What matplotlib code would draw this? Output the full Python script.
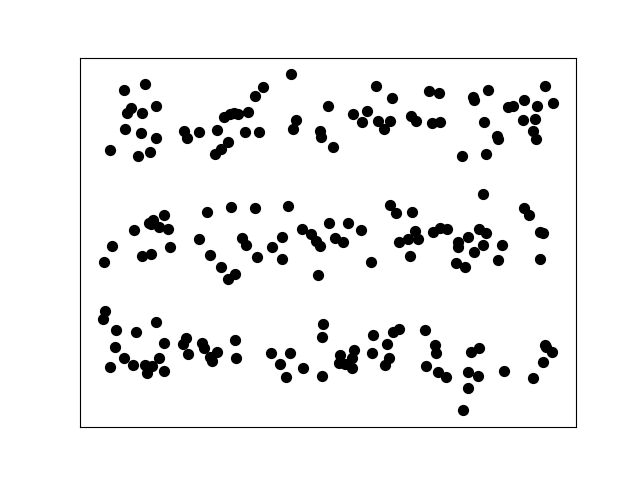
import numpy as np
import matplotlib
matplotlib.use("Agg")
import matplotlib.pyplot as plt

# ======================================================
# DATA (three bands of points)
# ======================================================

top_x = [44, 65, 51, 47, 62, 76, 45, 61, 76, 104, 107, 119, 30, 58, 70,
         137, 135, 141, 148, 144, 150, 154, 158, 168, 175, 183, 165, 179,
         211, 216, 213, 240, 241, 248, 253,
         296, 312, 273, 287, 282, 298, 304, 310, 331, 336, 349, 359, 352, 360,
         393, 394, 408, 465, 428, 433, 444, 457, 473, 404, 443, 455, 417,
         418, 453, 456, 382, 406]
top_y = [337, 343, 319, 314, 314, 321, 298, 294, 289, 296, 289, 295, 277, 271, 275,
         297, 273, 278, 285, 310, 313, 314, 313, 315, 331, 340, 295, 295,
         353, 307, 298, 296, 290, 321, 280,
         341, 329, 313, 316, 305, 306, 298, 306, 311, 306, 336, 334, 304, 305,
         330, 327, 337, 341, 320, 321, 327, 321, 324, 305, 307, 308, 291,
         288, 296, 288, 271, 273]

mid_x = [24, 32, 54, 69, 73, 71, 79, 84, 88, 62, 71, 90, 119, 127, 130,
         151, 175, 208, 141, 148, 155, 162, 166, 177, 192, 202, 202, 222,
         231, 236, 240, 249, 255, 238,
         263, 268, 281, 291, 310, 316, 332, 319, 328, 335, 338, 330, 353,
         360, 367, 378, 378, 376,
         403, 444, 449, 399, 406, 388, 394, 403, 385, 422, 418, 460, 463, 460]
mid_y = [165, 181, 197, 204, 207, 203, 200, 212, 198, 171, 173, 180, 188, 215, 172,
         220, 219, 221, 160, 148, 153, 189, 182, 170, 180, 190, 168, 198,
         193, 186, 181, 204, 189, 152,
         185, 204, 197, 165, 222, 214, 215, 185, 188, 196, 188, 171, 195,
         199, 198, 185, 180, 164,
         233, 219, 212, 198, 194, 190, 175, 182, 160, 182, 167, 195, 194, 168]

bot_x = [25, 23, 36, 35, 30, 44, 56, 53, 65, 67, 72, 76, 79, 84, 84,
         103, 106, 108, 122, 124, 130, 132, 137, 155, 156,
         191, 200, 210, 206, 223, 243, 242, 242,
         260, 259, 265, 272, 274, 272, 293, 292, 307, 309, 305, 313, 319,
         345, 355, 356, 346, 358, 366,
         391, 399, 388, 398, 388, 383, 424, 453, 465, 466, 472, 463]
bot_y = [116, 108, 97, 80, 60, 69, 95, 62, 62, 54, 61, 105, 69, 84, 56,
         83, 89, 73, 84, 79, 70, 66, 75, 87, 69,
         74, 63, 74, 50, 59, 103, 90, 51,
         72, 64, 63, 69, 77, 59, 92, 74, 83, 69, 62, 95, 98,
         97, 82, 74, 61, 55, 50,
         75, 79, 55, 51, 39, 17, 56, 49, 82, 80, 75, 65]

# ======================================================
# PLOT
# ======================================================

fig, ax = plt.subplots(figsize=(6.4, 4.8), dpi=100)

for xs, ys in [(top_x, top_y), (mid_x, mid_y), (bot_x, bot_y)]:
    ax.scatter(xs, ys, s=50, color="black")

ax.set_xlim(0, 496)
ax.set_ylim(0, 369)

ax.set_xticks([])
ax.set_yticks([])

plt.savefig("out.png", dpi=100)
plt.close()
